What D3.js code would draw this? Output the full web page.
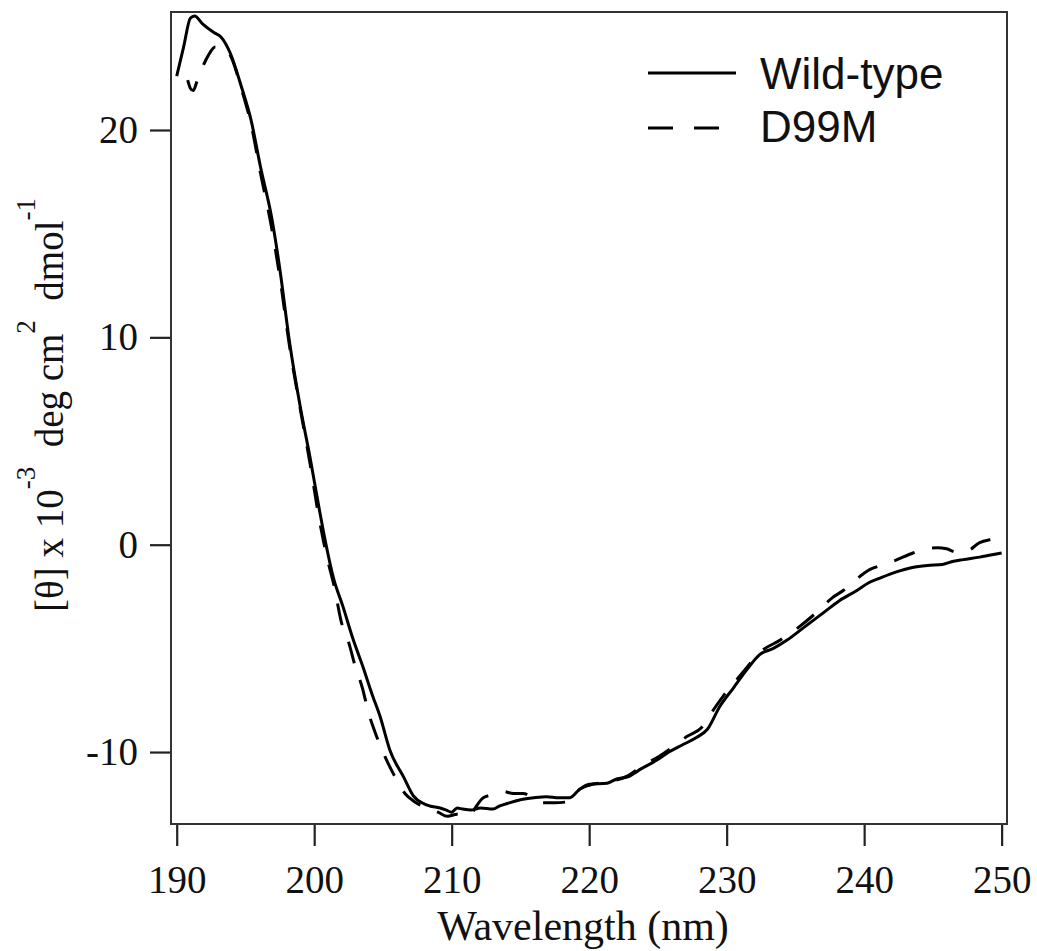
<!DOCTYPE html>
<html>
<head>
<meta charset="utf-8">
<script src="https://cdn.jsdelivr.net/npm/d3@7"></script>
<style>
  body { margin: 0; background: #fff; }
  svg { display: block; }
</style>
</head>
<body>
<svg id="svg" width="1037" height="951"></svg>
<script>
// wavelengths (nm) and mean residue ellipticity (x 10^-3)
var wtNm = [190.0, 190.5, 191.0, 191.3, 191.9, 192.7, 193.2, 193.9, 194.7, 195.4, 196.1, 196.9, 197.5, 198.2, 199.0, 199.7, 200.4, 200.8, 201.4, 202.1, 202.8, 203.55, 204.2, 204.8, 205.5, 206.5, 207.2, 208.0, 208.4, 209.15, 209.6, 210.0, 210.4, 210.8, 211.4, 212.1, 213.0, 213.5, 214.2, 215.0, 216.0, 216.9, 217.8, 218.6, 219.3, 220.0, 221.3, 222.0, 222.8, 223.8, 224.9, 225.8, 226.8, 227.8, 228.6, 229.5, 230.5, 231.5, 232.4, 233.4, 234.4, 235.6, 237.0, 238.2, 239.5, 240.3, 241.2, 242.4, 243.5, 244.6, 245.7, 246.5, 247.2, 248.4, 249.2, 250.0];
var wtVal = [22.6, 24.0, 25.4, 25.5, 25.1, 24.7, 24.5, 23.7, 22.1, 20.5, 18.2, 15.8, 13.3, 9.8, 6.6, 4.2, 1.6, 0.2, -1.6, -3.0, -4.5, -5.9, -7.2, -8.3, -9.9, -11.2, -12.1, -12.5, -12.6, -12.7, -12.8, -12.9, -12.7, -12.75, -12.8, -12.7, -12.75, -12.6, -12.45, -12.3, -12.2, -12.15, -12.2, -12.2, -11.8, -11.55, -11.5, -11.3, -11.2, -10.8, -10.4, -10.0, -9.65, -9.3, -8.9, -7.8, -6.9, -6.0, -5.3, -5.0, -4.6, -4.0, -3.3, -2.7, -2.2, -1.85, -1.6, -1.3, -1.1, -1.0, -0.95, -0.8, -0.72, -0.6, -0.5, -0.4];

var mutNm = [190.8, 191.0, 191.2, 191.5, 192.3, 192.8, 193.3, 193.9, 194.7, 195.4, 196.1, 196.9, 197.5, 198.2, 199.0, 199.7, 200.4, 201.0, 201.45, 202.0, 202.5, 203.0, 203.5, 203.95, 204.4, 205.0, 205.8, 206.6, 207.3, 208.2, 209.0, 209.7, 210.4, 211.1, 212.3, 213.0, 213.7, 214.5, 215.2, 216.0, 216.6, 217.5, 218.4, 219.3, 220.0, 221.3, 222.8, 223.8, 225.1, 226.2, 227.1, 228.2, 229.0, 229.75, 230.5, 231.5, 232.4, 233.9, 235.2, 236.65, 237.7, 238.5, 239.2, 240.4, 241.2, 242.1, 243.55, 244.4, 245.3, 246.0, 246.7, 247.5, 248.4, 249.2, 250.0];
var mutVal = [22.4, 22.0, 21.9, 22.4, 23.6, 24.0, 24.0, 23.6, 22.0, 20.3, 17.9, 15.3, 12.9, 9.6, 6.5, 3.9, 1.1, -0.8, -2.0, -3.8, -4.7, -5.9, -6.9, -8.1, -9.0, -10.0, -11.1, -12.0, -12.4, -12.7, -12.9, -13.1, -13.0, -13.1, -12.2, -12.05, -11.9, -12.0, -12.0, -12.25, -12.45, -12.45, -12.4, -11.8, -11.6, -11.45, -11.15, -10.7, -10.2, -9.7, -9.25, -8.8, -8.0, -7.3, -6.7, -5.9, -5.2, -4.6, -4.0, -3.2, -2.55, -2.2, -1.8, -1.2, -1.0, -0.8, -0.4, -0.2, -0.15, -0.2, -0.35, -0.3, 0.1, 0.25, 0.34];

var xTicks = [190, 200, 210, 220, 230, 240, 250];
var yTicks = [-10, 0, 10, 20];
var seriesNames = ["Wild-type", "D99M"];

var svg = d3.select("#svg");
var pLeft = 171, pRight = 1007, pTop = 12, pBottom = 824;
var serif = "'Liberation Serif', 'Times New Roman', Times, serif";
var sans = "'Liberation Sans', Arial, Helvetica, sans-serif";

var x = d3.scaleLinear().domain([189.585, 250.39]).range([pLeft, pRight]);
var y = d3.scaleLinear().domain([-13.47, 25.69]).range([pBottom, pTop]);

var line = d3.line()
    .x(function(d) { return x(d[0]); })
    .y(function(d) { return y(d[1]); })
    .curve(d3.curveMonotoneX);

var wt = wtNm.map(function(v, i) { return [v, wtVal[i]]; });
var mut = mutNm.map(function(v, i) { return [v, mutVal[i]]; });

// axes (plain hyphen for negatives, like the original)
var fmt = function(d) { return String(d); };
var xAxis = svg.append("g")
    .attr("transform", "translate(0," + pBottom + ")")
    .call(d3.axisBottom(x).tickValues(xTicks).tickSize(22).tickPadding(19).tickFormat(fmt));
var yAxis = svg.append("g")
    .attr("transform", "translate(" + pLeft + ",0)")
    .call(d3.axisLeft(y).tickValues(yTicks).tickSize(21).tickPadding(12).tickFormat(fmt));

[xAxis, yAxis].forEach(function(a) {
    a.select(".domain").remove();
    a.selectAll("line").attr("stroke", "#222").attr("stroke-width", 2.2);
    a.selectAll("text")
	.attr("font-family", serif)
	.attr("font-size", 39)
	.attr("fill", "#111");
});

// frame
svg.append("rect")
    .attr("x", pLeft)
    .attr("y", pTop)
    .attr("width", pRight - pLeft)
    .attr("height", pBottom - pTop)
    .attr("fill", "none")
    .attr("stroke", "#333")
    .attr("stroke-width", 2);

// curves
svg.append("path")
    .datum(wt)
    .attr("d", line)
    .attr("fill", "none")
    .attr("stroke", "#000")
    .attr("stroke-width", 3);
svg.append("path")
    .datum(mut)
    .attr("d", line)
    .attr("fill", "none")
    .attr("stroke", "#000")
    .attr("stroke-width", 3)
    .attr("stroke-dasharray", "22,18");

// legend
var legend = svg.append("g");
legend.selectAll("line").data(seriesNames).enter()
    .append("line")
    .attr("x1", 648)
    .attr("x2", function(d, i) { return i == 0 ? 736 : 719; })
    .attr("y1", function(d, i) { return 73 + i * 55; })
    .attr("y2", function(d, i) { return 73 + i * 55; })
    .attr("stroke", "#000")
    .attr("stroke-width", 3)
    .attr("stroke-dasharray", function(d, i) { return i == 0 ? null : "25,21"; });
legend.selectAll("text").data(seriesNames).enter()
    .append("text")
    .attr("x", 760)
    .attr("y", function(d, i) { return 89 + i * 53; })
    .attr("font-family", sans)
    .attr("font-size", 44)
    .attr("fill", "#111")
    .text(function(d) { return d; });

// axis titles
svg.append("text")
    .attr("x", (pLeft + pRight) / 2 - 6)
    .attr("y", 940)
    .attr("text-anchor", "middle")
    .attr("font-family", serif)
    .attr("font-size", 42)
    .attr("fill", "#111")
    .text("Wavelength (nm)");

var yt = svg.append("text")
    .attr("transform", "translate(63,405) rotate(-90)")
    .attr("text-anchor", "middle")
    .attr("font-family", serif)
    .attr("font-size", 39)
    .attr("fill", "#111");
yt.append("tspan").text("[θ] x 10");
yt.append("tspan").attr("dy", -28).attr("font-size", 27).text("-3");
yt.append("tspan").attr("dy", 28).text("\u00a0 deg cm");
yt.append("tspan").attr("dy", -28).attr("font-size", 27).text("2");
yt.append("tspan").attr("dy", 28).text("\u00a0 dmol");
yt.append("tspan").attr("dy", -28).attr("font-size", 27).text("-1");
</script>
</body>
</html>
